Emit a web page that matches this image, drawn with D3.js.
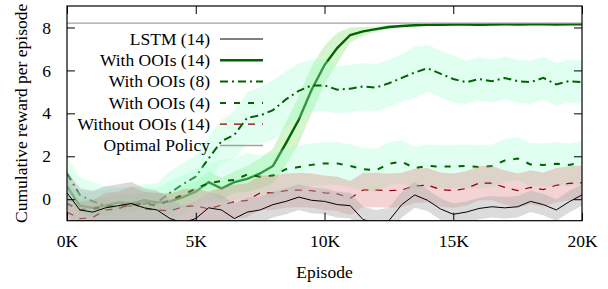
<!DOCTYPE html>
<html>
<head>
<meta charset="utf-8">
<script src="https://cdn.jsdelivr.net/npm/d3@7/dist/d3.min.js"></script>
<style>
	body { margin: 0; background: #fff; }
</style>
</head>
<body>
<svg id="chart" width="608" height="289"></svg>
<script>
// episodes every 500, 0 .. 20000
var episodes = d3.range(0, 20001, 500);
var xTicks = [0, 5000, 10000, 15000, 20000];
var yTicks = [0, 2, 4, 6, 8];
var optimal = 8.2;

var lstm = [0.3, -0.5, -0.6, -0.4, -0.3, -0.2, -0.4, -0.5, -0.9, -1.1, -0.9, -0.4, -0.5, -0.9, -0.6, -0.5, -0.25, -0.1, 0.1, -0.05,
	-0.1, -0.25, -0.3, -0.95, -1.1, -1.0, -0.25, 0.2, -0.05, -0.45, -0.7, -0.6, -0.43, -0.35, -0.4, -0.35, -0.1, -0.25, -0.5, -0.12, 0.2];
var lstmSd = [1.0, 1.0, 1.0, 1.0, 1.0, 1.0, 0.9, 0.9, 0.9, 0.8, 0.8, 0.7, 0.7, 0.7, 0.7, 0.6, 0.6, 0.6, 0.6, 0.6,
	0.6, 0.6, 0.6, 0.6, 0.6, 0.6, 0.6, 0.6, 0.5, 0.5, 0.5, 0.5, 0.5, 0.5, 0.5, 0.5, 0.5, 0.5, 0.5, 0.5, 0.5];

var ooi14 = [0.6, -0.3, -0.4, -0.3, -0.15, -0.2, -0.05, -0.15, -0.1, 0.1, 0.35, 0.8, 0.5, 0.8, 0.95, 1.2, 1.55, 2.6, 3.7, 5.1,
	6.25, 7.05, 7.65, 7.82, 7.92, 8.02, 8.07, 8.1, 8.12, 8.13, 8.14, 8.14, 8.13, 8.14, 8.15, 8.14, 8.15, 8.15, 8.14, 8.15, 8.15];
var ooi14Sd = [0.4, 0.4, 0.4, 0.4, 0.4, 0.4, 0.4, 0.4, 0.4, 0.5, 0.5, 0.5, 0.5, 0.5, 0.6, 0.7, 0.8, 1.0, 1.1, 1.1,
	0.9, 0.7, 0.35, 0.2, 0.12, 0.08, 0.05, 0.04, 0.04, 0.04, 0.04, 0.04, 0.04, 0.04, 0.04, 0.04, 0.04, 0.04, 0.04, 0.04, 0.04];

var ooi8 = [1.2, 0.2, -0.1, -0.3, -0.35, -0.3, -0.2, -0.15, 0.3, 0.7, 1.05, 1.9, 2.7, 3.0, 3.8, 3.9, 4.15, 4.65, 5.05, 5.3,
	5.3, 5.1, 5.15, 5.25, 5.2, 5.4, 5.65, 5.9, 6.1, 5.85, 5.6, 5.45, 5.6, 5.5, 5.65, 5.5, 5.45, 5.65, 5.35, 5.5, 5.45];
var ooi8Sd = [0.8, 0.8, 0.9, 0.9, 0.9, 0.9, 0.9, 0.9, 1.0, 1.0, 1.0, 1.0, 1.0, 1.1, 1.2, 1.3, 1.4, 1.3, 1.3, 1.2,
	1.2, 1.1, 1.1, 1.1, 1.1, 1.1, 1.1, 1.2, 1.1, 1.1, 1.1, 1.0, 1.0, 1.0, 1.0, 1.0, 1.0, 1.0, 1.0, 1.0, 1.0];

var ooi4 = [-0.2, -0.5, -0.45, -0.35, -0.3, -0.25, -0.2, -0.3, -0.05, 0.2, 0.5, 0.75, 0.85, 0.9, 1.15, 1.05, 1.1, 1.4, 1.5, 1.6,
	1.67, 1.67, 1.55, 1.4, 1.35, 1.65, 1.75, 1.45, 1.55, 1.52, 1.52, 1.55, 1.5, 1.55, 1.8, 1.9, 1.62, 1.6, 1.65, 1.6, 1.7];
var ooi4Sd = [0.8, 0.8, 0.8, 0.8, 0.8, 0.8, 0.8, 0.8, 0.9, 0.9, 0.9, 0.9, 1.0, 1.0, 1.0, 1.0, 1.0, 1.0, 1.0, 1.0,
	1.0, 1.0, 1.0, 1.0, 1.0, 1.0, 1.0, 1.0, 1.0, 1.0, 1.0, 1.0, 1.0, 1.0, 1.0, 1.0, 1.0, 1.0, 1.0, 1.0, 1.0];

var without = [-0.6, -0.9, -0.85, -0.5, -0.45, -0.2, -0.45, -0.5, -0.55, -0.35, -0.3, -0.45, -0.27, -0.12, -0.05, 0.3, 0.3, 0.4, 0.43, 0.4,
	0.3, 0.25, 0.05, 0.43, 0.43, 0.4, 0.43, 0.62, 0.66, 0.45, 0.4, 0.5, 0.75, 0.75, 0.55, 0.4, 0.55, 0.45, 0.65, 0.74, 0.77];
var withoutSd = [0.8, 0.8, 0.8, 0.8, 0.8, 0.8, 0.8, 0.8, 0.8, 0.8, 0.8, 0.8, 0.8, 0.8, 0.8, 0.8, 0.8, 0.8, 0.8, 0.8,
	0.8, 0.8, 0.8, 0.8, 0.8, 0.8, 0.8, 0.8, 0.8, 0.8, 0.8, 0.8, 0.8, 0.8, 0.8, 0.8, 0.8, 0.8, 0.8, 0.8, 0.8];

var FONT = "'Liberation Serif', 'DejaVu Serif', 'Times New Roman', Times, serif";
var margin = { left: 67, right: 26, top: 6, bottom: 68.3 };
var W = 608, H = 289;

var svg = d3.select("#chart");
var x = d3.scaleLinear().domain([0, 20000]).range([margin.left, W - margin.right]);
var y = d3.scaleLinear().domain([-1, 9]).range([H - margin.bottom, margin.top]);

svg.append("defs").append("clipPath").attr("id", "plotclip")
	.append("rect")
	.attr("x", x(0)).attr("y", y(9))
	.attr("width", x(20000) - x(0)).attr("height", y(-1) - y(9));

var plot = svg.append("g").attr("clip-path", "url(#plotclip)");

// draw order: green runs first, red and LSTM bands land on top of them
var series = [
	{ name: "With OOIs (14)", m: ooi14, sd: ooi14Sd, color: "#006400", width: 2.4, dash: null, band: "rgb(150,232,130)", op: 0.4 },
	{ name: "With OOIs (8)", m: ooi8, sd: ooi8Sd, color: "#006400", width: 2, dash: "8,4,2,4", band: "rgb(160,255,210)", op: 0.32 },
	{ name: "With OOIs (4)", m: ooi4, sd: ooi4Sd, color: "#006400", width: 2, dash: "6,8", band: "rgb(160,255,210)", op: 0.32 },
	{ name: "Without OOIs (14)", m: without, sd: withoutSd, color: "#8b0000", width: 1.2, dash: "7,7", band: "rgb(220,120,120)", op: 0.33 },
	{ name: "LSTM (14)", m: lstm, sd: lstmSd, color: "#000000", width: 1, dash: null, band: "rgb(175,175,175)", op: 0.45 }
];

var area = d3.area()
	.x(function (d, i) { return x(episodes[i]); })
	.y0(function (d) { return y(d[0] - d[1]); })
	.y1(function (d) { return y(d[0] + d[1]); });

var line = d3.line()
	.x(function (d, i) { return x(episodes[i]); })
	.y(function (d) { return y(d); });

series.forEach(function (s) {
	var pairs = s.m.map(function (v, i) { return [v, s.sd[i]]; });
	plot.append("path").attr("d", area(pairs))
		.attr("fill", s.band).attr("fill-opacity", s.op).attr("stroke", "none");
	plot.append("path").attr("d", line(s.m))
		.attr("fill", "none").attr("stroke", s.color)
		.attr("stroke-width", s.width)
		.attr("stroke-dasharray", s.dash);
});

plot.append("line")
	.attr("x1", x(0)).attr("x2", x(20000))
	.attr("y1", y(optimal)).attr("y2", y(optimal))
	.attr("stroke", "#a0a0a0").attr("stroke-width", 1.3);

// axes, ticks inside on all four sides
var tl = 8;
svg.append("g").attr("transform", "translate(0," + y(-1) + ")")
	.call(d3.axisBottom(x).tickValues(xTicks).tickSizeInner(-tl).tickSizeOuter(0).tickPadding(14)
		.tickFormat(function (d) { return (d / 1000) + "K"; }));
svg.append("g").attr("transform", "translate(0," + y(9) + ")")
	.call(d3.axisTop(x).tickValues(xTicks).tickSizeInner(-tl).tickSizeOuter(0).tickFormat(""));
svg.append("g").attr("transform", "translate(" + x(0) + ",0)")
	.call(d3.axisLeft(y).tickValues(yTicks).tickSizeInner(-tl).tickSizeOuter(0).tickPadding(16));
svg.append("g").attr("transform", "translate(" + x(20000) + ",0)")
	.call(d3.axisRight(y).tickValues(yTicks).tickSizeInner(-tl).tickSizeOuter(0).tickFormat(""));

svg.selectAll(".domain").remove();
svg.selectAll("g").attr("font-family", null).attr("font-size", null);
svg.selectAll(".tick line").attr("stroke", "#000").attr("stroke-width", 1);

svg.append("rect")
	.attr("x", x(0)).attr("y", y(9))
	.attr("width", x(20000) - x(0)).attr("height", y(-1) - y(9))
	.attr("fill", "none").attr("stroke", "#000").attr("stroke-width", 1.2);

svg.append("text")
	.attr("x", (x(0) + x(20000)) / 2).attr("y", 278)
	.attr("text-anchor", "middle")
	.text("Episode");

svg.append("text")
	.attr("transform", "translate(27," + ((y(-1) + y(9)) / 2) + ") rotate(-90)")
	.attr("text-anchor", "middle")
	.text("Cumulative reward per episode");

// legend, in the order of the original plot command
var legendRows = [
	{ name: "LSTM (14)", color: "#000000", width: 1, dash: null },
	{ name: "With OOIs (14)", color: "#006400", width: 2.4, dash: null },
	{ name: "With OOIs (8)", color: "#006400", width: 2, dash: "8,4,2,4" },
	{ name: "With OOIs (4)", color: "#006400", width: 2, dash: "6,8" },
	{ name: "Without OOIs (14)", color: "#8b0000", width: 1.2, dash: "7,7" },
	{ name: "Optimal Policy", color: "#a0a0a0", width: 1.3, dash: null }
];

var leg = svg.append("g");
legendRows.forEach(function (r, i) {
	var ly = 39 + i * 21.3;
	leg.append("text")
		.attr("x", 210).attr("y", ly).attr("dy", "0.33em")
		.attr("text-anchor", "end")
		.text(r.name);
	leg.append("line")
		.attr("x1", 220).attr("x2", 263).attr("y1", ly).attr("y2", ly)
		.attr("stroke", r.color).attr("stroke-width", r.width)
		.attr("stroke-dasharray", r.dash);
});

svg.selectAll("text")
	.attr("font-family", FONT)
	.attr("font-size", 17.5)
	.attr("fill", "#000");
</script>
</body>
</html>
